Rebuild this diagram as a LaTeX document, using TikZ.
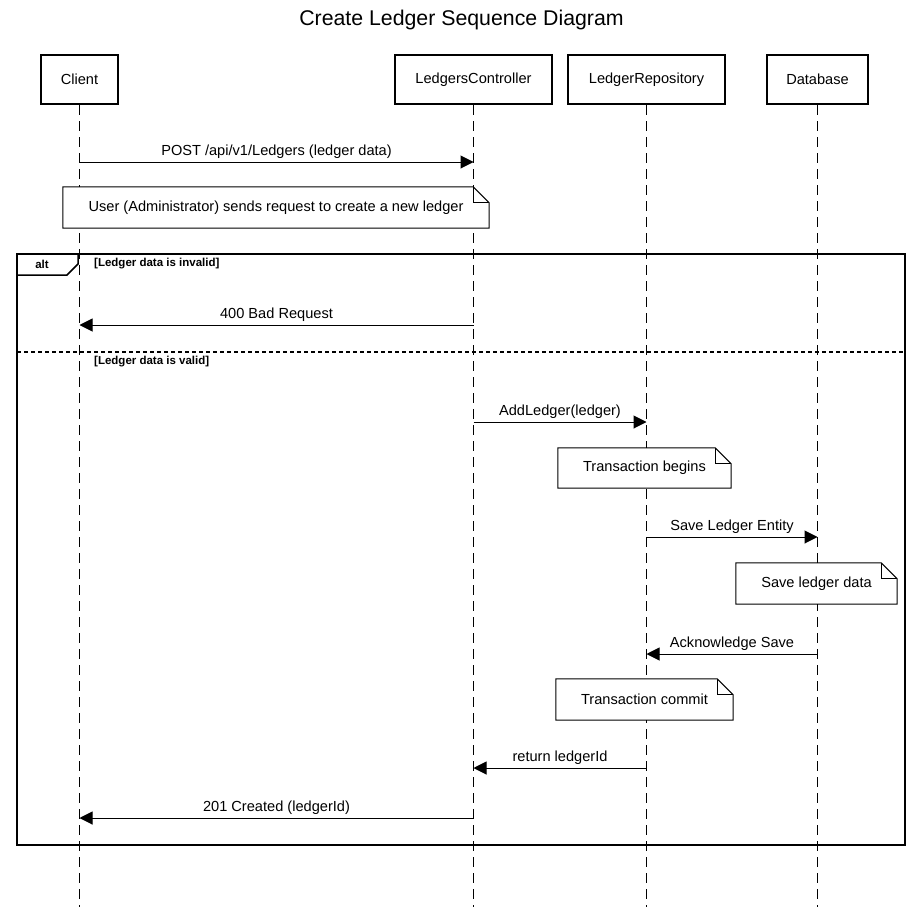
\documentclass[tikz,border=0pt]{standalone}
\usepackage{fontspec}
\setmainfont{Liberation Sans}
\usetikzlibrary{arrows.meta,calc}
\newcommand\mainfs{\fontsize{14.6}{17}\selectfont}
\begin{document}
\begin{tikzpicture}[x=1pt,y=-1pt,
  actor/.style={draw,line width=2pt,minimum height=49pt,inner sep=0pt,font=\mainfs},
  life/.style={line width=1pt,dash pattern=on 10pt off 6pt},
  msg/.style={line width=1pt,-{Triangle[length=13pt,width=13pt]}},
  lbl/.style={anchor=base,inner sep=0pt,font=\mainfs},
  notebg/.style={fill=white,draw=none,inner sep=0pt,font=\mainfs},
  noteline/.style={line width=1pt},
  guard/.style={anchor=west,inner sep=0pt,font=\fontsize{11.5}{13}\selectfont\bfseries},
  frame/.style={line width=2pt}]
\useasboundingbox (0,0) rectangle (923,907);
\fill[white] (0,0) rectangle (923,907);

\node[font=\fontsize{21.3}{25}\selectfont] (title) at (461.5,20) {Create Ledger Sequence Diagram};

% actors
\node[actor,minimum width=77pt] (client) at (79.5,79.5) {Client};
\node[actor,minimum width=157pt] (ctrl) at (473.5,79.5) {LedgersController};
\node[actor,minimum width=157pt] (repo) at (646.5,79.5) {LedgerRepository};
\node[actor,minimum width=101pt] (db) at (817.5,79.5) {Database};

\coordinate (bottom) at (0,907);
\foreach \a in {client,ctrl,repo,db}{
  \draw[life] (\a.south) -- (\a.south |- bottom);
}

% alt frame
\draw[frame] (17,254) rectangle (905,845);
\draw[line width=1.5pt,fill=white] (17,254) -- (78,254) -- (78,264) -- (67,275) -- (17,275) -- cycle;
\node[inner sep=0pt,font=\fontsize{11.5}{13}\selectfont\bfseries] (alt) at (42,264) {alt};
\node[guard] (g1) at (94,264) {[Ledger data is invalid]};
\draw[line width=1.5pt,dash pattern=on 4pt off 3pt] (17,352) -- (905,352);
\node[guard] (g2) at (94,362) {[Ledger data is valid]};

% row coordinates
\coordinate (r1) at (0,162);
\coordinate (r2) at (0,325);
\coordinate (r3) at (0,422);
\coordinate (r4) at (0,537);
\coordinate (r5) at (0,654);
\coordinate (r6) at (0,768);
\coordinate (r7) at (0,818);

% messages
\draw[msg] (client.south |- r1) -- (ctrl.south |- r1);
\node[lbl] (l1) at ($(client.south |- r1)!0.5!(ctrl.south |- r1)+(0,-7)$) {POST /api/v1/Ledgers (ledger data)};

\draw[msg] (ctrl.south |- r2) -- (client.south |- r2);
\node[lbl] (l2) at ($(client.south |- r2)!0.5!(ctrl.south |- r2)+(0,-7)$) {400 Bad Request};

\draw[msg] (ctrl.south |- r3) -- (repo.south |- r3);
\node[lbl] (l3) at ($(ctrl.south |- r3)!0.5!(repo.south |- r3)+(0,-7)$) {AddLedger(ledger)};

\draw[msg] (repo.south |- r4) -- (db.south |- r4);
\node[lbl] (l4) at ($(repo.south |- r4)!0.5!(db.south |- r4)+(0,-7)$) {Save Ledger Entity};

\draw[msg] (db.south |- r5) -- (repo.south |- r5);
\node[lbl] (l5) at ($(repo.south |- r5)!0.5!(db.south |- r5)+(0,-7)$) {Acknowledge Save};

\draw[msg] (repo.south |- r6) -- (ctrl.south |- r6);
\node[lbl] (l6) at ($(ctrl.south |- r6)!0.5!(repo.south |- r6)+(0,-7)$) {return ledgerId};

\draw[msg] (ctrl.south |- r7) -- (client.south |- r7);
\node[lbl] (l7) at ($(client.south |- r7)!0.5!(ctrl.south |- r7)+(0,-7)$) {201 Created (ledgerId)};

% notes
\newcommand\drawnote[1]{%
  \draw[noteline] (#1.north west) -- ($(#1.north east)+(-16,0)$) -- ($(#1.north east)+(0,16)$) -- (#1.south east) -- (#1.south west) -- cycle;
  \draw[noteline] ($(#1.north east)+(-16,0)$) -- ($(#1.north east)+(-16,16)$) -- ($(#1.north east)+(0,16)$);}

\node[notebg,minimum width=426pt,minimum height=41pt] (n1) at (276,207.5) {User (Administrator) sends request to create a new ledger};
\drawnote{n1}
\node[notebg,minimum width=173pt,minimum height=40pt] (n2) at (644.5,468) {Transaction begins};
\drawnote{n2}
\node[notebg,minimum width=161pt,minimum height=41pt] (n3) at (816.5,583.5) {Save ledger data};
\drawnote{n3}
\node[notebg,minimum width=177pt,minimum height=41pt] (n4) at (644.5,699.5) {Transaction commit};
\drawnote{n4}
\end{tikzpicture}
\end{document}
